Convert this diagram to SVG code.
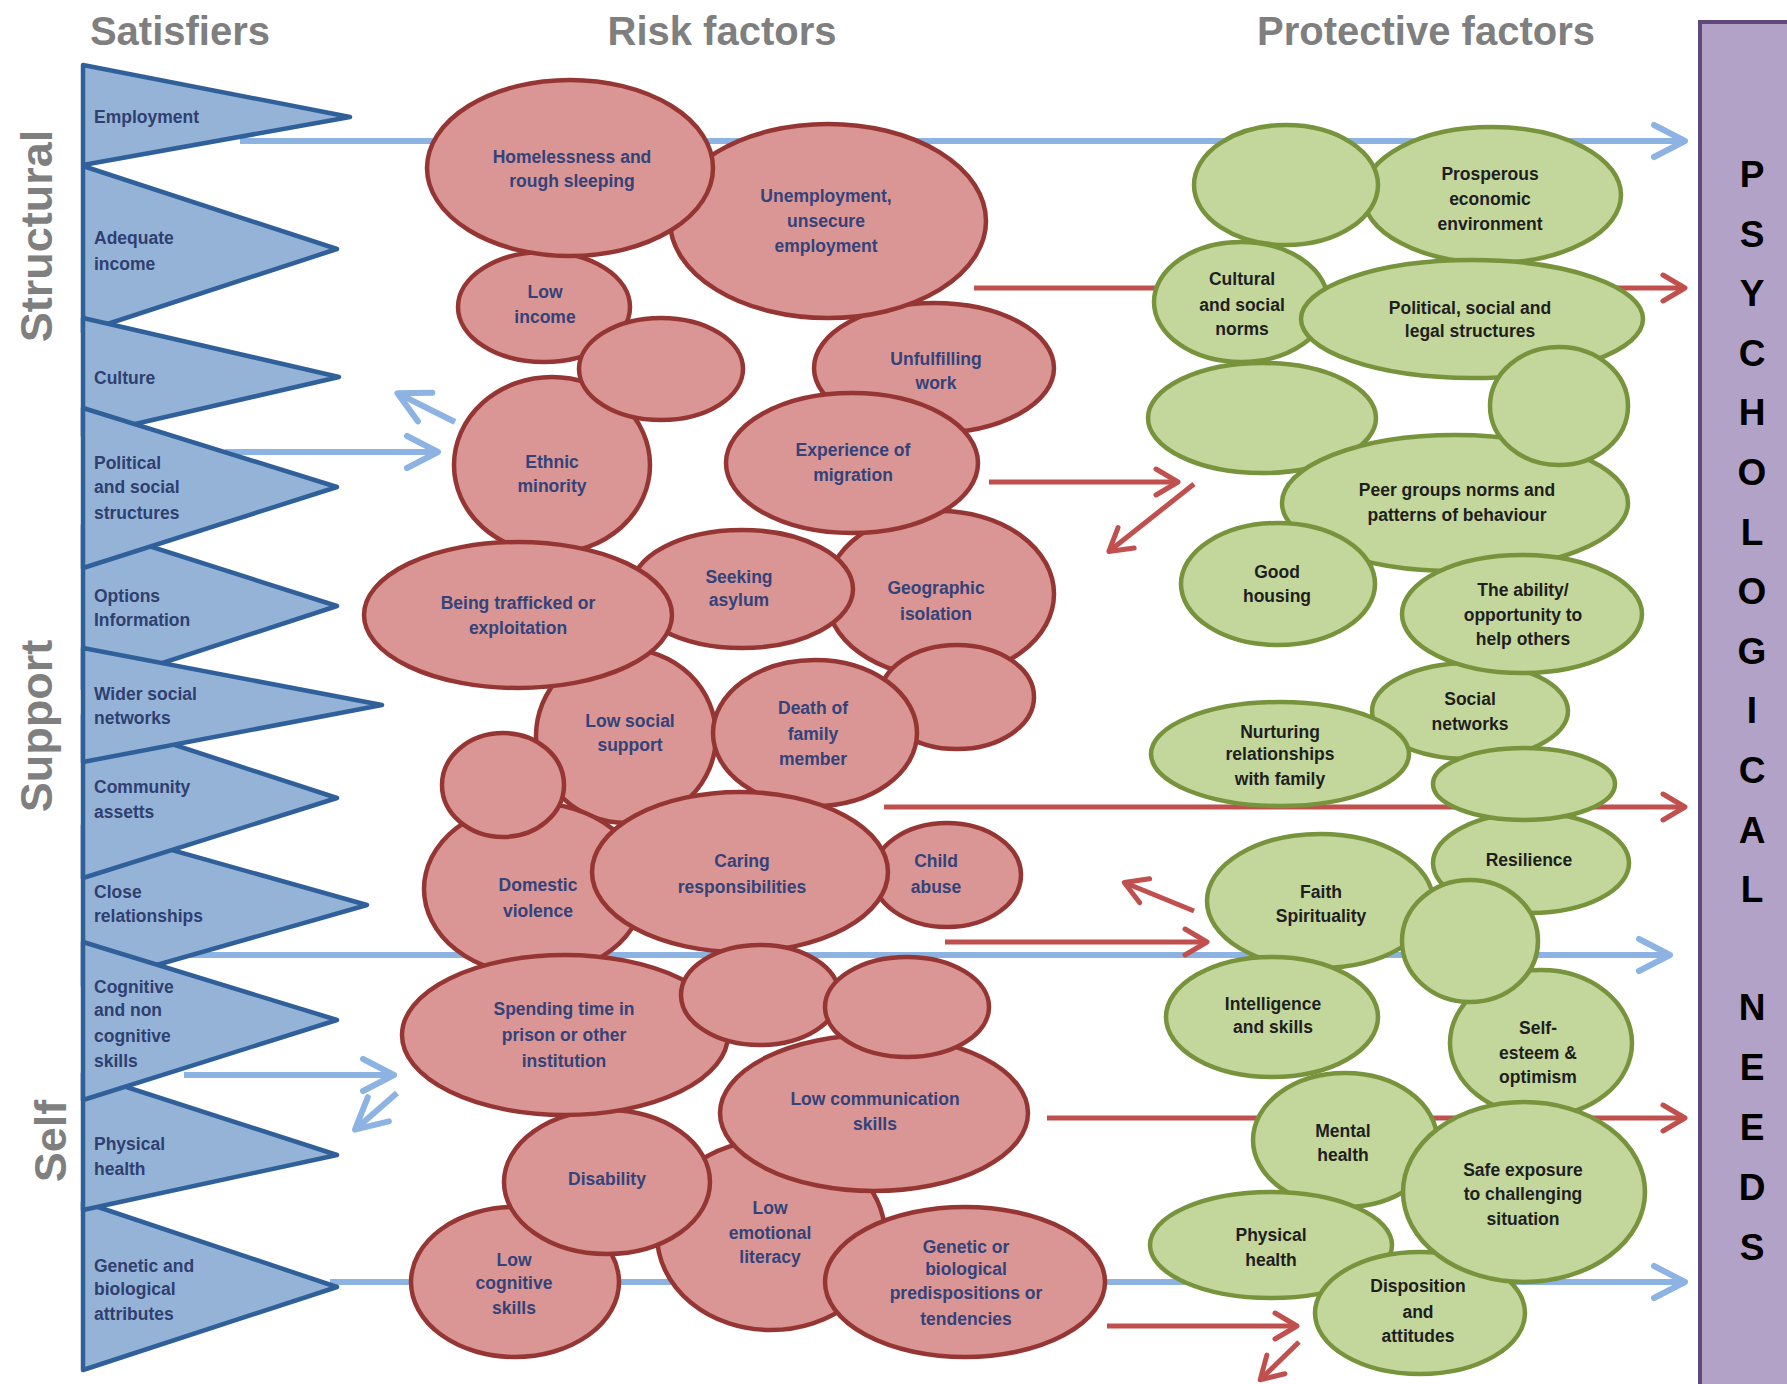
<svg xmlns="http://www.w3.org/2000/svg" width="1787" height="1384" viewBox="0 0 1787 1384">
<defs>
<style>
.tri{fill:#95b3d7;stroke:#30609a;stroke-width:4.5;stroke-linejoin:round}
.re{fill:#d99694;stroke:#963634;stroke-width:4.5}
.ge{fill:#c3d69b;stroke:#77933c;stroke-width:4.5}
.lbl{font-family:"Liberation Sans",Arial,sans-serif;font-size:17.5px;font-weight:bold}
.tl{fill:#2f3f70}
.rl{fill:#34427a;text-anchor:middle}
.gl{fill:#1e1e1e;text-anchor:middle}
.title{font-family:"Liberation Sans",Arial,sans-serif;font-size:40px;font-weight:bold;fill:#7f7f7f;text-anchor:middle}
.side{font-family:"Liberation Sans",Arial,sans-serif;font-size:45px;font-weight:bold;fill:#7f7f7f;text-anchor:middle}
.pl{font-family:"Liberation Sans",Arial,sans-serif;font-size:37px;font-weight:bold;fill:#000;text-anchor:middle}
.bl{stroke:#8db3e2;stroke-width:6;fill:none;marker-end:url(#ab)}
.rd{stroke:#c0504d;stroke-width:5;fill:none;marker-end:url(#ar)}
</style>
<marker id="ab" viewBox="-36 -22 44 44" refX="-4" refY="0" markerWidth="44" markerHeight="44" markerUnits="userSpaceOnUse" orient="auto">
<path d="M-31,-16 L0,0 L-31,16" fill="none" stroke="#8db3e2" stroke-width="6" stroke-linecap="round" stroke-linejoin="round"/>
</marker>
<marker id="ar" viewBox="-28 -18 36 36" refX="-4" refY="0" markerWidth="36" markerHeight="36" markerUnits="userSpaceOnUse" orient="auto">
<path d="M-22,-13 L0,0 L-22,13" fill="none" stroke="#c0504d" stroke-width="5" stroke-linecap="round" stroke-linejoin="round"/>
</marker>
</defs>
<rect width="1787" height="1384" fill="#fff"/>

<g id="connectors">
<line class="bl" x1="240" y1="141" x2="1681" y2="141"/>
<line class="bl" x1="225" y1="452" x2="434" y2="452"/>
<line class="bl" x1="455" y1="422" x2="401" y2="395"/>
<line class="bl" x1="165" y1="955" x2="1666" y2="955"/>
<line class="bl" x1="184" y1="1075" x2="390" y2="1075"/>
<line class="bl" x1="397" y1="1093" x2="358" y2="1127"/>
<line class="bl" x1="330" y1="1282" x2="1681" y2="1282"/>
<line class="rd" x1="974" y1="288" x2="1681" y2="288"/>
<line class="rd" x1="989" y1="482" x2="1174" y2="482"/>
<line class="rd" x1="1194" y1="484" x2="1112" y2="549"/>
<line class="rd" x1="884" y1="807" x2="1681" y2="807"/>
<line class="rd" x1="945" y1="942" x2="1203" y2="942"/>
<line class="rd" x1="1194" y1="911" x2="1128" y2="884"/>
<line class="rd" x1="1047" y1="1118" x2="1681" y2="1118"/>
<line class="rd" x1="1107" y1="1326" x2="1293" y2="1326"/>
<line class="rd" x1="1299" y1="1342" x2="1263" y2="1377"/>
</g>

<g id="satisfiers">
<g id="sat-employment"><polygon class="tri" points="83,65 350,117 83,165"/><text class="lbl tl" x="94" y="123">Employment</text></g>
<g id="sat-income"><polygon class="tri" points="83,166 337,249 83,332"/><text class="lbl tl"><tspan x="94" y="244">Adequate</tspan><tspan x="94" y="270">income</tspan></text></g>
<g id="sat-culture"><polygon class="tri" points="83,318 339,377 83,436"/><text class="lbl tl" x="94" y="384">Culture</text></g>
<g id="sat-options"><polygon class="tri" points="83,525 337,606 83,689"/><text class="lbl tl"><tspan x="94" y="602">Options</tspan><tspan x="94" y="626">Information</tspan></text></g>
<g id="sat-political"><polygon class="tri" points="83,408 337,487 83,568"/><text class="lbl tl"><tspan x="94" y="469">Political</tspan><tspan x="94" y="493">and social</tspan><tspan x="94" y="519">structures</tspan></text></g>
<g id="sat-close"><polygon class="tri" points="83,825 367,905 83,986"/><text class="lbl tl"><tspan x="94" y="898">Close</tspan><tspan x="94" y="922">relationships</tspan></text></g>
<g id="sat-community"><polygon class="tri" points="83,715 337,798 83,878"/><text class="lbl tl"><tspan x="94" y="793">Community</tspan><tspan x="94" y="818">assetts</tspan></text></g>
<g id="sat-wider"><polygon class="tri" points="83,648 382,705 83,762"/><text class="lbl tl"><tspan x="94" y="700">Wider social</tspan><tspan x="94" y="724">networks</tspan></text></g>
<g id="sat-genetic"><polygon class="tri" points="83,1202 337,1287 83,1370"/><text class="lbl tl"><tspan x="94" y="1272">Genetic and</tspan><tspan x="94" y="1295">biological</tspan><tspan x="94" y="1320">attributes</tspan></text></g>
<g id="sat-physical"><polygon class="tri" points="83,1073 337,1155 83,1210"/><text class="lbl tl"><tspan x="94" y="1150">Physical</tspan><tspan x="94" y="1175">health</tspan></text></g>
<g id="sat-cognitive"><polygon class="tri" points="83,942 337,1020 83,1100"/><text class="lbl tl"><tspan x="94" y="993">Cognitive</tspan><tspan x="94" y="1016">and non</tspan><tspan x="94" y="1042">cognitive</tspan><tspan x="94" y="1067">skills</tspan></text></g>
</g>

<g id="risk-factors">
<g id="r-unfulfilling"><ellipse class="re" cx="934" cy="368" rx="120" ry="65"/><text class="lbl rl"><tspan x="936" y="365">Unfulfilling</tspan><tspan x="936" y="389">work</tspan></text></g>
<g id="r-unemployment"><ellipse class="re" cx="828" cy="221" rx="158" ry="97"/><text class="lbl rl"><tspan x="826" y="202">Unemployment,</tspan><tspan x="826" y="227">unsecure</tspan><tspan x="826" y="252">employment</tspan></text></g>
<g id="r-lowincome"><ellipse class="re" cx="544" cy="307" rx="86" ry="55"/><text class="lbl rl"><tspan x="545" y="298">Low</tspan><tspan x="545" y="323">income</tspan></text></g>
<g id="r-homeless"><ellipse class="re" cx="570" cy="168" rx="143" ry="88"/><text class="lbl rl"><tspan x="572" y="163">Homelessness and</tspan><tspan x="572" y="187">rough sleeping</tspan></text></g>
<g id="r-ethnic"><ellipse class="re" cx="552" cy="465" rx="98" ry="88"/><text class="lbl rl"><tspan x="552" y="468">Ethnic</tspan><tspan x="552" y="492">minority</tspan></text></g>
<g id="r-empty1"><ellipse class="re" cx="661" cy="369" rx="82" ry="51"/></g>
<g id="r-geographic"><ellipse class="re" cx="940" cy="594" rx="114" ry="83"/><text class="lbl rl"><tspan x="936" y="594">Geographic</tspan><tspan x="936" y="620">isolation</tspan></text></g>
<g id="r-migration"><ellipse class="re" cx="852" cy="463" rx="126" ry="70"/><text class="lbl rl"><tspan x="853" y="456">Experience of</tspan><tspan x="853" y="481">migration</tspan></text></g>
<g id="r-empty2"><ellipse class="re" cx="957" cy="697" rx="77" ry="52"/></g>
<g id="r-lowsocial"><ellipse class="re" cx="626" cy="736" rx="90" ry="87"/><text class="lbl rl"><tspan x="630" y="727">Low social</tspan><tspan x="630" y="751">support</tspan></text></g>
<g id="r-asylum"><ellipse class="re" cx="742" cy="589" rx="111" ry="59"/><text class="lbl rl"><tspan x="739" y="583">Seeking</tspan><tspan x="739" y="606">asylum</tspan></text></g>
<g id="r-trafficked"><ellipse class="re" cx="518" cy="615" rx="154" ry="73"/><text class="lbl rl"><tspan x="518" y="609">Being trafficked or</tspan><tspan x="518" y="634">exploitation</tspan></text></g>
<g id="r-death"><ellipse class="re" cx="815" cy="733" rx="102" ry="73"/><text class="lbl rl"><tspan x="813" y="714">Death of</tspan><tspan x="813" y="740">family</tspan><tspan x="813" y="765">member</tspan></text></g>
<g id="r-domestic"><ellipse class="re" cx="534" cy="889" rx="110" ry="86"/><text class="lbl rl"><tspan x="538" y="891">Domestic</tspan><tspan x="538" y="917">violence</tspan></text></g>
<g id="r-empty3"><ellipse class="re" cx="503" cy="785" rx="61" ry="52"/></g>
<g id="r-childabuse"><ellipse class="re" cx="947" cy="875" rx="74" ry="52"/><text class="lbl rl"><tspan x="936" y="867">Child</tspan><tspan x="936" y="893">abuse</tspan></text></g>
<g id="r-caring"><ellipse class="re" cx="740" cy="872" rx="148" ry="80"/><text class="lbl rl"><tspan x="742" y="867">Caring</tspan><tspan x="742" y="893">responsibilities</tspan></text></g>
<g id="r-emotional"><ellipse class="re" cx="771" cy="1235" rx="114" ry="95"/><text class="lbl rl"><tspan x="770" y="1214">Low</tspan><tspan x="770" y="1239">emotional</tspan><tspan x="770" y="1263">literacy</tspan></text></g>
<g id="r-lowcognitive"><ellipse class="re" cx="515" cy="1282" rx="104" ry="75"/><text class="lbl rl"><tspan x="514" y="1266">Low</tspan><tspan x="514" y="1289">cognitive</tspan><tspan x="514" y="1314">skills</tspan></text></g>
<g id="r-disability"><ellipse class="re" cx="607" cy="1182" rx="103" ry="72"/><text class="lbl rl" x="607" y="1185">Disability</text></g>
<g id="r-prison"><ellipse class="re" cx="565" cy="1035" rx="163" ry="80"/><text class="lbl rl"><tspan x="564" y="1015">Spending time in</tspan><tspan x="564" y="1041">prison or other</tspan><tspan x="564" y="1067">institution</tspan></text></g>
<g id="r-communication"><ellipse class="re" cx="874" cy="1113" rx="154" ry="78"/><text class="lbl rl"><tspan x="875" y="1105">Low communication</tspan><tspan x="875" y="1130">skills</tspan></text></g>
<g id="r-empty4"><ellipse class="re" cx="760" cy="995" rx="79" ry="50"/></g>
<g id="r-empty5"><ellipse class="re" cx="907" cy="1007" rx="82" ry="50"/></g>
<g id="r-genetic"><ellipse class="re" cx="965" cy="1282" rx="140" ry="75"/><text class="lbl rl"><tspan x="966" y="1253">Genetic or</tspan><tspan x="966" y="1275">biological</tspan><tspan x="966" y="1299">predispositions or</tspan><tspan x="966" y="1325">tendencies</tspan></text></g>
</g>

<g id="protective-factors">
<g id="p-prosperous"><ellipse class="ge" cx="1492" cy="195" rx="129" ry="68"/><text class="lbl gl"><tspan x="1490" y="180">Prosperous</tspan><tspan x="1490" y="205">economic</tspan><tspan x="1490" y="230">environment</tspan></text></g>
<g id="p-empty1"><ellipse class="ge" cx="1286" cy="185" rx="92" ry="60"/></g>
<g id="p-cultural"><ellipse class="ge" cx="1241" cy="302" rx="87" ry="60"/><text class="lbl gl"><tspan x="1242" y="285">Cultural</tspan><tspan x="1242" y="311">and social</tspan><tspan x="1242" y="335">norms</tspan></text></g>
<g id="p-political"><ellipse class="ge" cx="1472" cy="319" rx="171" ry="59"/><text class="lbl gl"><tspan x="1470" y="314">Political, social and</tspan><tspan x="1470" y="337">legal structures</tspan></text></g>
<g id="p-empty2"><ellipse class="ge" cx="1262" cy="418" rx="114" ry="55"/></g>
<g id="p-peer"><ellipse class="ge" cx="1455" cy="503" rx="173" ry="68"/><text class="lbl gl"><tspan x="1457" y="496">Peer groups norms and</tspan><tspan x="1457" y="521">patterns of behaviour</tspan></text></g>
<g id="p-empty3"><ellipse class="ge" cx="1559" cy="406" rx="69" ry="59"/></g>
<g id="p-housing"><ellipse class="ge" cx="1278" cy="584" rx="97" ry="61"/><text class="lbl gl"><tspan x="1277" y="578">Good</tspan><tspan x="1277" y="602">housing</tspan></text></g>
<g id="p-socialnet"><ellipse class="ge" cx="1470" cy="711" rx="98" ry="48"/><text class="lbl gl"><tspan x="1470" y="705">Social</tspan><tspan x="1470" y="730">networks</tspan></text></g>
<g id="p-ability"><ellipse class="ge" cx="1522" cy="614" rx="120" ry="59"/><text class="lbl gl"><tspan x="1523" y="596">The ability/</tspan><tspan x="1523" y="621">opportunity to</tspan><tspan x="1523" y="645">help others</tspan></text></g>
<g id="p-nurturing"><ellipse class="ge" cx="1280" cy="754" rx="129" ry="52"/><text class="lbl gl"><tspan x="1280" y="738">Nurturing</tspan><tspan x="1280" y="760">relationships</tspan><tspan x="1280" y="785">with family</tspan></text></g>
<g id="p-resilience"><ellipse class="ge" cx="1531" cy="863" rx="98" ry="50"/><text class="lbl gl" x="1529" y="866">Resilience</text></g>
<g id="p-empty4"><ellipse class="ge" cx="1524" cy="784" rx="91" ry="36"/></g>
<g id="p-faith"><ellipse class="ge" cx="1320" cy="901" rx="113" ry="67"/><text class="lbl gl"><tspan x="1321" y="898">Faith</tspan><tspan x="1321" y="922">Spirituality</tspan></text></g>
<g id="p-selfesteem"><ellipse class="ge" cx="1541" cy="1043" rx="91" ry="73"/><text class="lbl gl"><tspan x="1538" y="1034">Self-</tspan><tspan x="1538" y="1059">esteem &amp;</tspan><tspan x="1538" y="1083">optimism</tspan></text></g>
<g id="p-empty5"><ellipse class="ge" cx="1470" cy="941" rx="68" ry="61"/></g>
<g id="p-intelligence"><ellipse class="ge" cx="1272" cy="1017" rx="106" ry="60"/><text class="lbl gl"><tspan x="1273" y="1010">Intelligence</tspan><tspan x="1273" y="1033">and skills</tspan></text></g>
<g id="p-mental"><ellipse class="ge" cx="1345" cy="1140" rx="92" ry="67"/><text class="lbl gl"><tspan x="1343" y="1137">Mental</tspan><tspan x="1343" y="1161">health</tspan></text></g>
<g id="p-physical"><ellipse class="ge" cx="1271" cy="1245" rx="121" ry="53"/><text class="lbl gl"><tspan x="1271" y="1241">Physical</tspan><tspan x="1271" y="1266">health</tspan></text></g>
<g id="p-disposition"><ellipse class="ge" cx="1420" cy="1313" rx="105" ry="61"/><text class="lbl gl"><tspan x="1418" y="1292">Disposition</tspan><tspan x="1418" y="1318">and</tspan><tspan x="1418" y="1342">attitudes</tspan></text></g>
<g id="p-safe"><ellipse class="ge" cx="1524" cy="1192" rx="121" ry="90"/><text class="lbl gl"><tspan x="1523" y="1176">Safe exposure</tspan><tspan x="1523" y="1200">to challenging</tspan><tspan x="1523" y="1225">situation</tspan></text></g>
</g>

<g id="needs">
<rect x="1700" y="22" width="110" height="1380" fill="#b3a2c7" stroke="#5f497a" stroke-width="4"/>
<text class="pl"><tspan x="1752" y="187">P</tspan><tspan x="1752" y="247">S</tspan><tspan x="1752" y="306">Y</tspan><tspan x="1752" y="366">C</tspan><tspan x="1752" y="425">H</tspan><tspan x="1752" y="485">O</tspan><tspan x="1752" y="545">L</tspan><tspan x="1752" y="604">O</tspan><tspan x="1752" y="664">G</tspan><tspan x="1752" y="723">I</tspan><tspan x="1752" y="783">C</tspan><tspan x="1752" y="843">A</tspan><tspan x="1752" y="902">L</tspan><tspan x="1752" y="1020">N</tspan><tspan x="1752" y="1080">E</tspan><tspan x="1752" y="1140">E</tspan><tspan x="1752" y="1200">D</tspan><tspan x="1752" y="1260">S</tspan></text>
</g>

<g id="headings">
<text class="title" x="180" y="45">Satisfiers</text>
<text class="title" x="722" y="45">Risk factors</text>
<text class="title" x="1426" y="45">Protective factors</text>
<text class="side" transform="translate(52,236) rotate(-90)" x="0" y="0">Structural</text>
<text class="side" transform="translate(52,726) rotate(-90)" x="0" y="0">Support</text>
<text class="side" transform="translate(66,1141) rotate(-90)" x="0" y="0">Self</text>
</g>
</svg>
